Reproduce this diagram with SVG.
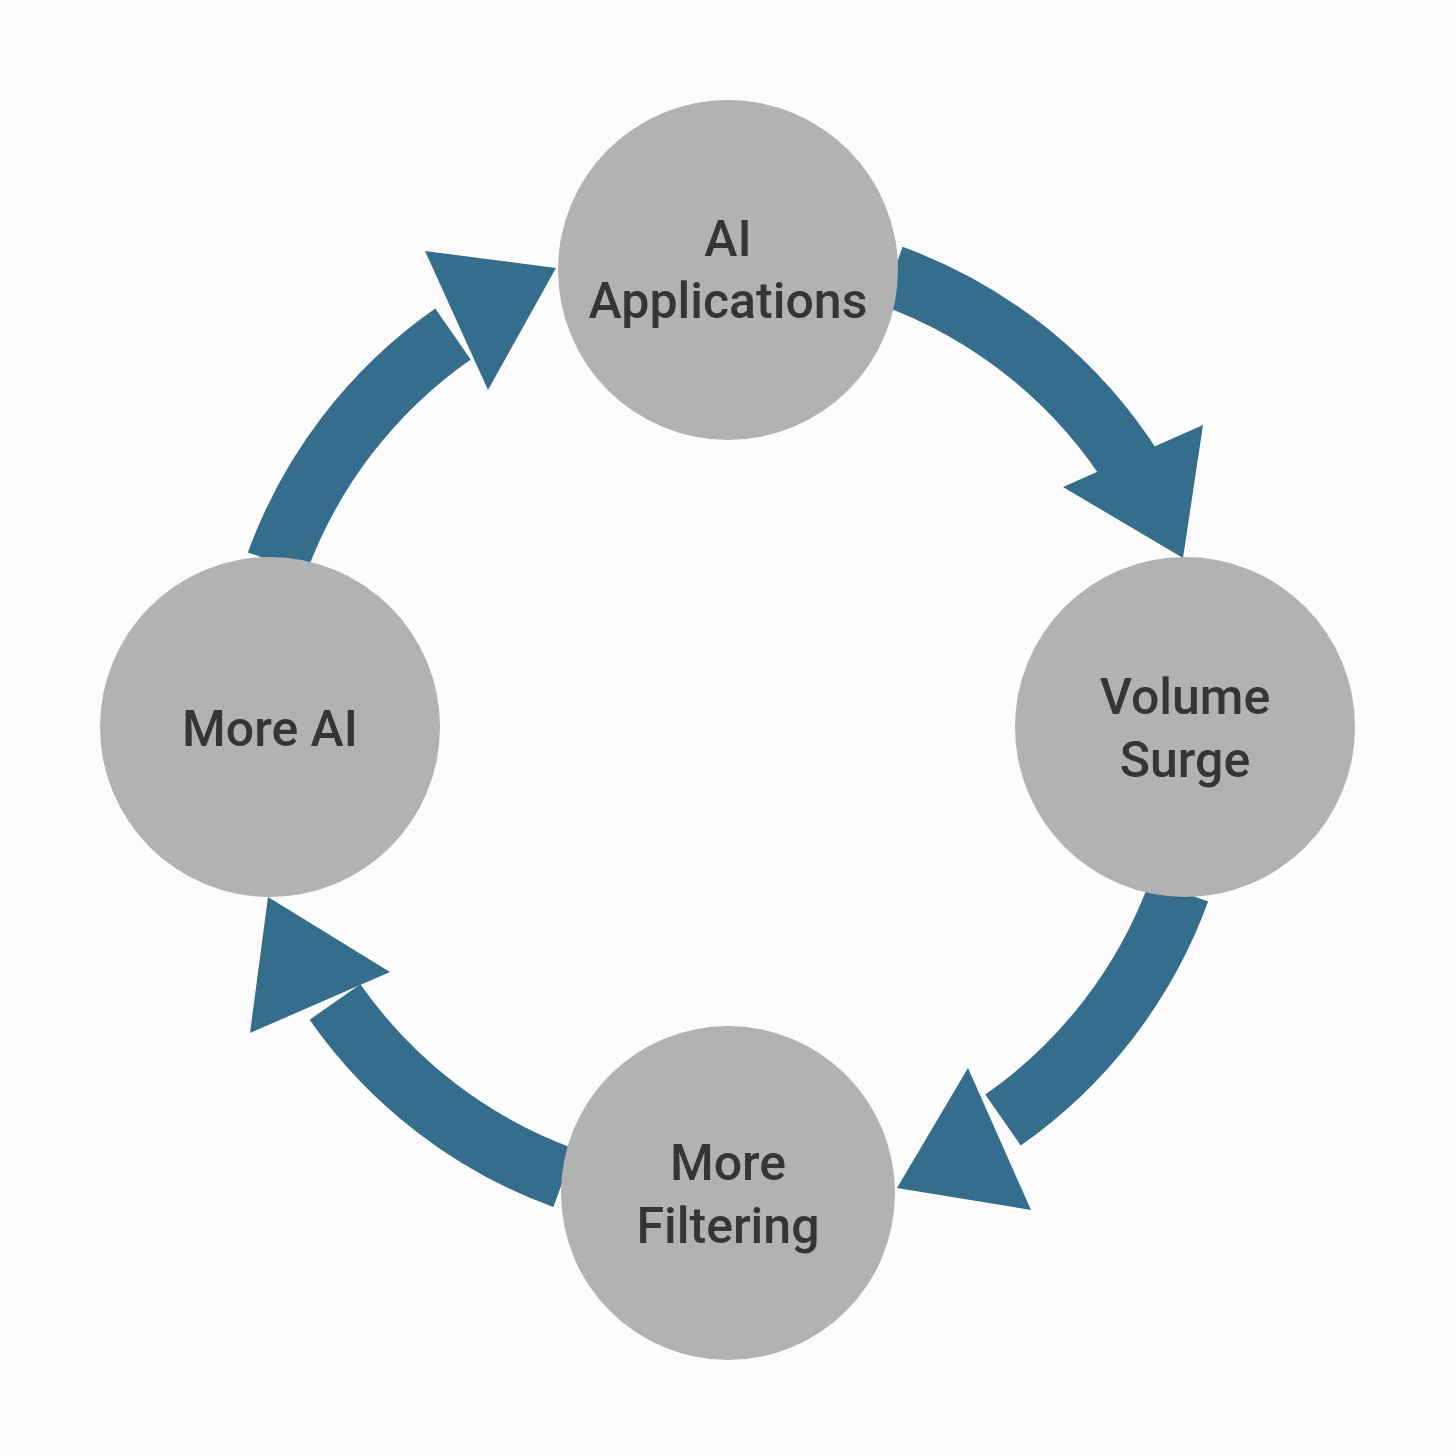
<svg xmlns="http://www.w3.org/2000/svg" width="1456" height="1456" viewBox="0 0 1456 1456">
<style>
.arc{fill:none;stroke:#356d8c;stroke-width:62}
.head{fill:#356d8c}
.node{fill:#b1b2b1}
.lbl{font-family:Roboto,"Liberation Sans",sans-serif;font-weight:500;font-size:50px;fill:#353535;text-anchor:middle}
</style>
<rect width="1456" height="1456" fill="#fcfcfc"/>
<g id="connectors">
<path class="arc" d="M892,276 A480,480 0 0 1 1135,473"/>
<polygon class="head" points="1203,425 1183,558 1063,487"/>
<path class="arc" d="M1179,891 A480,480 0 0 1 1003,1120"/>
<polygon class="head" points="1031,1210 897,1188 968,1068"/>
<path class="arc" d="M564,1178 A480,480 0 0 1 335,1002"/>
<polygon class="head" points="390,972 268,897 250,1033"/>
<path class="arc" d="M277,563 A480,480 0 0 1 453,334"/>
<polygon class="head" points="425,251 556,268 488,390"/>
</g>
<g id="n1"><circle class="node" cx="728" cy="270" r="170"/><text class="lbl" x="728" y="256">AI</text><text class="lbl" x="728" y="318">Applications</text></g>
<g id="n2"><circle class="node" cx="1185" cy="727" r="170"/><text class="lbl" x="1185" y="714">Volume</text><text class="lbl" x="1185" y="777">Surge</text></g>
<g id="n3"><circle class="node" cx="728" cy="1193" r="167"/><text class="lbl" x="728" y="1180">More</text><text class="lbl" x="728" y="1243">Filtering</text></g>
<g id="n4"><circle class="node" cx="270" cy="727" r="170"/><text class="lbl" x="270" y="746">More AI</text></g>
</svg>
